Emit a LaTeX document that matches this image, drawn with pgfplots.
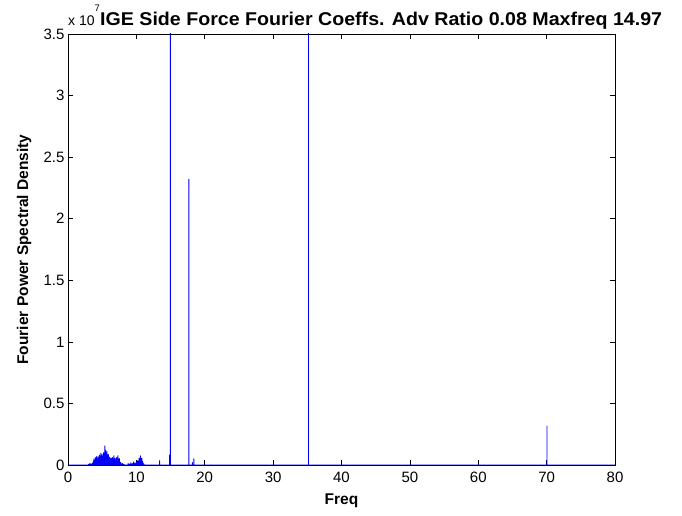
\documentclass[border=0pt]{standalone}
\usepackage{pgfplots}
\pgfplotsset{compat=1.18}
\usepackage{fontspec}
\setmainfont{Liberation Sans}
\begin{document}
\begin{tikzpicture}
\useasboundingbox (-68pt,-51pt) rectangle (614pt,465pt);
\begin{axis}[
  at={(0pt,0pt)}, anchor=south west,
  scale only axis, width=547pt, height=431pt,
  xmin=0, xmax=80, ymin=0, ymax=3.5,
  xtick={0,10,...,80}, ytick={0,0.5,...,3.5},
  yticklabels={0,0.5,1,1.5,2,2.5,3,3.5},
  scaled y ticks=false,
  tick align=inside, major tick length=5pt,
  /pgf/number format/assume math mode=true,
  tick label style={font=\fontsize{15}{17}\selectfont},
  xticklabel style={yshift=-3pt},
  xlabel={\textbf{Freq}}, ylabel={\textbf{Fourier Power Spectral Density}},
  label style={font=\fontsize{15.5}{17}\selectfont},
  xlabel style={at={(axis description cs:0.5,0)}, anchor=base, yshift=-39pt},
  ylabel style={at={(axis description cs:-0.0804,0.5)}, anchor=center},
  axis line style={black, line width=0.6pt},
  every tick/.style={black, line width=0.6pt},
  clip=true,
]
\addplot[color={rgb,255:red,0;green,0;blue,255}, line width=0.9pt, line join=round, mark=none] coordinates {
(0,0)(3.0,0)
(3.0,0.005)(3.05,0)(3.1,0.005)(3.15,0)(3.2,0.012)(3.25,0)(3.3,0.008)(3.35,0)(3.4,0.006)(3.45,0)
(3.5,0.01)(3.55,0)(3.6,0.015)(3.65,0)(3.7,0.03)(3.75,0)(3.8,0.05)(3.85,0)(3.9,0.035)(3.95,0)
(4.0,0.06)(4.05,0)(4.1,0.045)(4.15,0)(4.2,0.07)(4.25,0)(4.3,0.05)(4.35,0)(4.4,0.065)(4.45,0)
(4.5,0.045)(4.55,0)(4.6,0.08)(4.65,0)(4.7,0.07)(4.75,0)(4.8,0.095)(4.85,0)(4.9,0.07)(4.95,0)
(5.0,0.085)(5.05,0)(5.1,0.07)(5.15,0)(5.2,0.10)(5.25,0)(5.3,0.09)(5.35,0)(5.4,0.155)(5.45,0)
(5.5,0.12)(5.55,0)(5.6,0.09)(5.65,0)(5.7,0.11)(5.75,0)(5.8,0.07)(5.85,0)(5.9,0.085)(5.95,0)
(6.0,0.055)(6.05,0)(6.1,0.065)(6.15,0)(6.2,0.05)(6.25,0)(6.3,0.055)(6.35,0)(6.4,0.045)(6.45,0)
(6.5,0.06)(6.55,0)(6.6,0.05)(6.65,0)(6.7,0.075)(6.75,0)(6.8,0.05)(6.85,0)(6.9,0.055)(6.95,0)
(7.0,0.04)(7.05,0)(7.1,0.06)(7.15,0)(7.2,0.05)(7.25,0)(7.3,0.075)(7.35,0)(7.4,0.045)(7.45,0)
(7.5,0.055)(7.55,0)(7.6,0.025)(7.65,0)(7.7,0.02)(7.75,0)(7.8,0.01)(7.85,0)(7.9,0.008)(7.95,0)
(8.0,0.012)(8.05,0)(8.1,0.005)(8.15,0)(8.2,0.004)(8.25,0)(8.8,0)
(8.8,0.012)(8.85,0)(8.9,0.006)(8.95,0)(9.0,0.008)(9.05,0)(9.1,0.006)(9.15,0)(9.2,0.018)(9.25,0)
(9.3,0.008)(9.35,0)(9.4,0.01)(9.45,0)(9.5,0.012)(9.55,0)(9.6,0.025)(9.65,0)(9.7,0.012)(9.75,0)
(9.8,0.015)(9.85,0)(9.9,0.01)(9.95,0)(10.0,0.025)(10.05,0)(10.1,0.02)(10.15,0)(10.2,0.035)(10.25,0)
(10.3,0.03)(10.35,0)(10.4,0.055)(10.45,0)(10.5,0.04)(10.55,0)(10.6,0.075)(10.65,0)(10.7,0.05)(10.75,0)
(10.8,0.055)(10.85,0)(10.9,0.03)(10.95,0)(11.0,0.015)(11.05,0)(11.1,0.008)(11.15,0)(11.2,0)
(13.4,0)(13.4,0.035)(13.4,0)
(14.85,0)(14.85,0.08)(14.85,0)(14.98,0)(14.98,8)(14.98,0)
(17.68,0)(17.68,2.32)(17.68,0)
(18.2,0)(18.2,0.02)(18.2,0)(18.4,0)(18.4,0.05)(18.4,0)
(35.18,0)(35.18,6)(35.18,0)
(70.05,0)(70.05,0.317)(70.05,0)
(80,0)
};
\end{axis}
\node[anchor=base west, inner sep=0pt, font=\fontsize{14}{16}\selectfont] at (0pt,439pt) {x 10};
\node[anchor=base west, inner sep=0pt, font=\fontsize{9.5}{11}\selectfont] at (26.3pt,453.5pt) {7};
\node[anchor=base west, inner sep=0pt, font=\bfseries\fontsize{18.5}{20}\selectfont\addfontfeatures{FakeStretch=1.06}] at (32pt,439pt) {IGE Side Force Fourier Coeffs. Adv Ratio 0.08 Maxfreq 14.97};
\end{tikzpicture}
\end{document}
